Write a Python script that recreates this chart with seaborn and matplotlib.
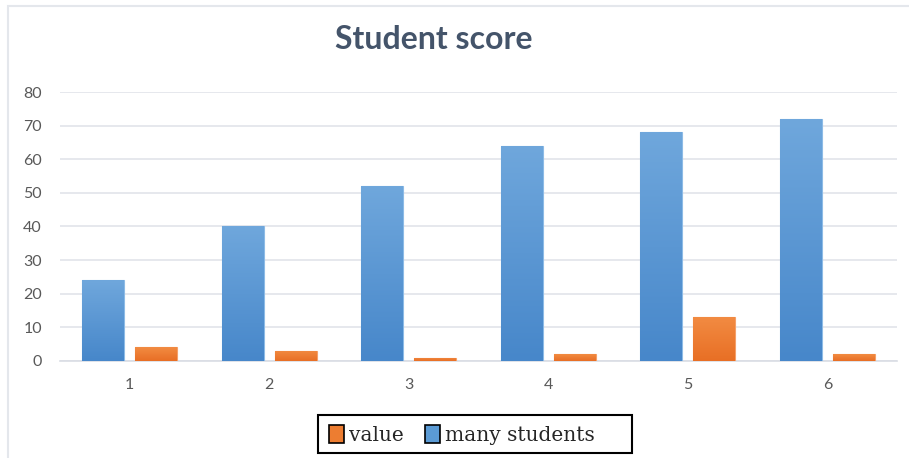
import numpy as np
import pandas as pd
import matplotlib
matplotlib.use('Agg')
import matplotlib.pyplot as plt
import seaborn as sns
from matplotlib.colors import LinearSegmentedColormap
from matplotlib.patches import Patch, Rectangle

categories = ['1', '2', '3', '4', '5', '6']
many_students = [24, 40, 52, 64, 68, 72]
value = [4, 3, 1, 2, 13, 2]

BLUE = '#5B9BD5'
ORANGE = '#ED7D31'


def main():
    sns.set_style('white')
    plt.rcParams['font.family'] = ['Lato', 'DejaVu Sans']

    df = pd.DataFrame({
        'x': categories * 2,
        'score': many_students + value,
        'series': ['many students'] * len(categories) + ['value'] * len(categories),
    })

    fig = plt.figure(figsize=(9.09, 4.58), dpi=100)
    ax = fig.add_axes([0.066, 0.212, 0.921, 0.587])

    sns.barplot(data=df, x='x', y='score', hue='series', order=categories,
                hue_order=['many students', 'value'],
                palette=[BLUE, ORANGE], width=0.76, gap=0.21,
                edgecolor='none', linewidth=0, ax=ax, legend=False, zorder=3)

    # gradient fill clipped to each bar
    grads = {
        BLUE: LinearSegmentedColormap.from_list('b', ['#4787CA', '#6FA7DC']),
        ORANGE: LinearSegmentedColormap.from_list('o', ['#E86F25', '#F28B42']),
    }
    n = len(categories)
    grad = np.linspace(0, 1, 100).reshape(-1, 1)
    for i, p in enumerate(list(ax.patches)):
        cmap = grads[BLUE] if i < n else grads[ORANGE]
        x0, y0 = p.get_x(), p.get_y()
        w, h = p.get_width(), p.get_height()
        if h <= 0:
            continue
        im = ax.imshow(grad, cmap=cmap, origin='lower', aspect='auto',
                       extent=[x0, x0 + w, y0, y0 + h], zorder=4)
        im.set_clip_path(p)
        p.set_edgecolor('#8DBBE6' if i < n else '#F4A06A')
        p.set_linewidth(0.8)

    ax.set_xlim(-0.5, 5.5)
    ax.set_ylim(0, 80)
    ax.set_yticks(range(0, 81, 10))
    ax.grid(axis='y', color='#E1E4EA', linewidth=1.2, zorder=0)
    ax.set_xlabel('')
    ax.set_ylabel('')
    for s in ['top', 'right', 'left']:
        ax.spines[s].set_visible(False)
    ax.spines['bottom'].set_color('#D9DDE4')
    ax.spines['bottom'].set_linewidth(1.2)
    ax.tick_params(axis='both', length=0, labelsize=11.5, colors='#595959')
    ax.tick_params(axis='y', pad=13)
    ax.tick_params(axis='x', pad=12)

    fig.text(0.477, 0.913, 'Student score', ha='center', va='center',
             fontsize=23, fontweight='bold', color='#44546A')

    # legend order: value, many students
    handles = [Patch(facecolor=ORANGE, edgecolor='black', linewidth=1.2),
               Patch(facecolor=BLUE, edgecolor='black', linewidth=1.2)]
    fig.legend(handles, ['value', 'many students'], loc='lower center',
               bbox_to_anchor=(0.508, -0.006), ncol=2, frameon=False,
               handlelength=0.75, handleheight=1.0, handletextpad=0.25,
               columnspacing=1.05, borderpad=0.3,
               prop={'family': 'DejaVu Serif', 'size': 14.5})
    fig.add_artist(Rectangle((318 / 909, 5 / 458), 314 / 909, 38 / 458,
                             transform=fig.transFigure, fill=False,
                             edgecolor='black', linewidth=1.5))

    # outer chart border (top and left)
    fig.add_artist(Rectangle((8 / 909, -0.1), 1.2, 1.1 - 6 / 458,
                             transform=fig.transFigure, fill=False,
                             edgecolor='#E4E7EC', linewidth=1.5))

    fig.savefig('out.png', dpi=100)
    plt.close(fig)


if __name__ == '__main__':
    main()
